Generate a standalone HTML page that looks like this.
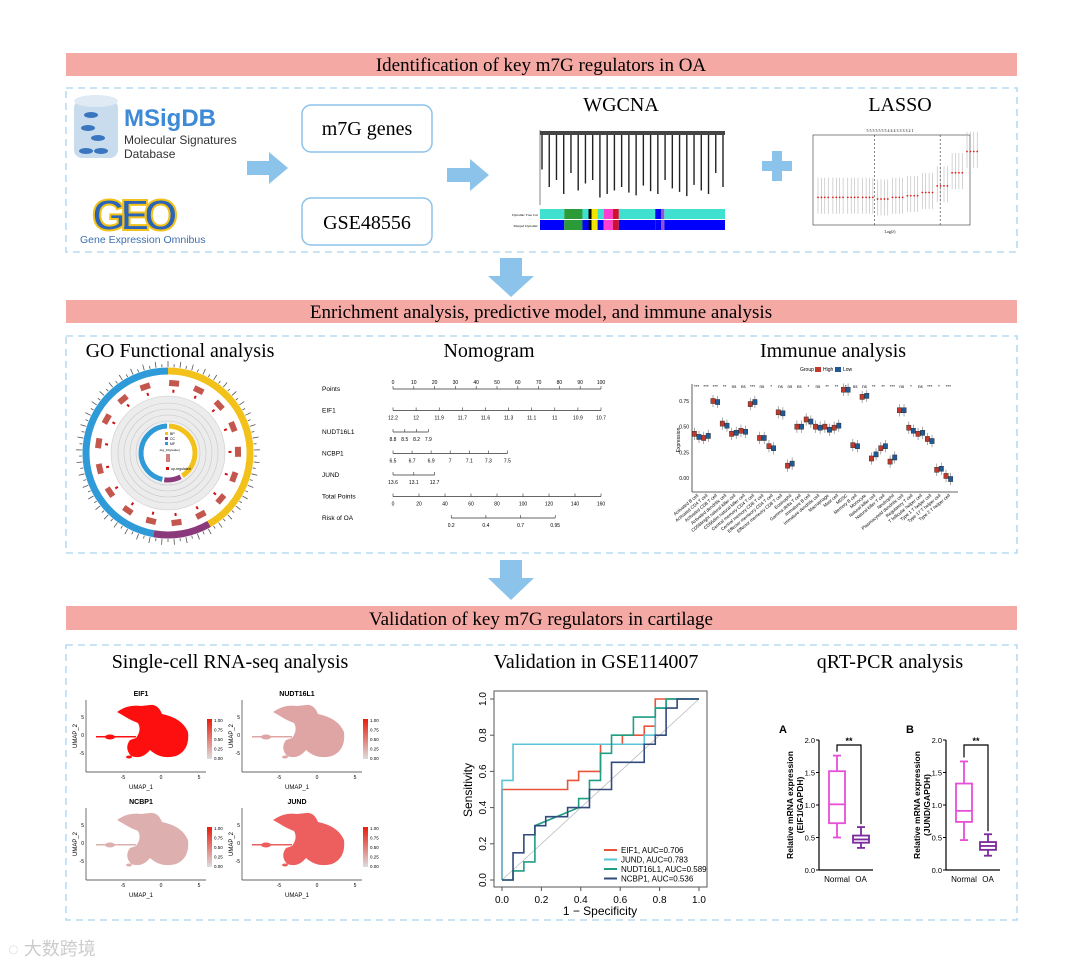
<!DOCTYPE html>
<html><head><meta charset="utf-8">
<style>
html,body{margin:0;padding:0;background:#fff;}
svg{display:block;font-family:"Liberation Serif",serif;}
.sans{font-family:"Liberation Sans",sans-serif;}
</style></head>
<body>
<svg id="root" width="1080" height="969" viewBox="0 0 1080 969">
<defs>
<linearGradient id="grad" x1="0" y1="0" x2="0" y2="1"><stop offset="0" stop-color="#e81d0e"/><stop offset="1" stop-color="#ddd"/></linearGradient>
</defs>
<!-- Banners -->
<rect x="66" y="53" width="951" height="23" fill="#f5a9a5"/>
<text x="541" y="71" font-size="19" text-anchor="middle">Identification of key m7G regulators in OA</text>
<rect x="66" y="300" width="951" height="23" fill="#f5a9a5"/>
<text x="541" y="318" font-size="19" text-anchor="middle">Enrichment analysis, predictive model, and immune analysis</text>
<rect x="66" y="606" width="951" height="24" fill="#f5a9a5"/>
<text x="541" y="625" font-size="19" text-anchor="middle">Validation of key m7G regulators in cartilage</text>
<!-- Dashed boxes -->
<rect x="66" y="88" width="951" height="164" fill="none" stroke="#a9d3ee" stroke-width="1.3" stroke-dasharray="7,5"/>
<rect x="66" y="336" width="951" height="217" fill="none" stroke="#a9d3ee" stroke-width="1.3" stroke-dasharray="7,5"/>
<rect x="66" y="645" width="951" height="275" fill="none" stroke="#a9d3ee" stroke-width="1.3" stroke-dasharray="7,5"/>
<!-- Down arrows -->
<path d="M500,258 H522 V276 H534 L511,297 L488,276 H500 Z" fill="#8cc3ea"/>
<path d="M500,560 H522 V578 H534 L511,600 L488,578 H500 Z" fill="#8cc3ea"/>

<!-- Section 1 -->
<g>
<rect x="74" y="100" width="44" height="58" rx="8" fill="#c9dced"/>
<ellipse cx="96" cy="101" rx="22" ry="6" fill="#dfeaf5"/>
<ellipse cx="91" cy="115" rx="7" ry="3" fill="#3a76c0"/><ellipse cx="88" cy="128" rx="7" ry="3" fill="#3a76c0"/>
<ellipse cx="98" cy="138" rx="7" ry="3" fill="#3a76c0"/><ellipse cx="86" cy="151" rx="7" ry="3" fill="#3a76c0"/><ellipse cx="101" cy="151" rx="7" ry="3" fill="#3a76c0"/>
<text x="124" y="126" class="sans" font-size="24" fill="#3d8ad6" font-weight="bold">MSigDB</text>
<text x="124" y="144" class="sans" font-size="12" fill="#333">Molecular Signatures</text>
<text x="124" y="158" class="sans" font-size="12" fill="#333">Database</text>
</g>
<g>
<text x="92" y="230" class="sans" font-size="44" font-weight="bold" fill="#2a63b8" stroke="#f2c21a" stroke-width="2" letter-spacing="-6">GEO</text>
<text x="80" y="243" class="sans" font-size="10.5" fill="#3d6fb0">Gene Expression Omnibus</text>
</g>
<path d="M247,161 H269 V152 L288,168 L269,184 V175 H247 Z" fill="#8cc3ea"/>
<rect x="302" y="105" width="130" height="47" rx="9" fill="#fff" stroke="#8cc3ea" stroke-width="1.5"/>
<text x="367" y="135" font-size="20" text-anchor="middle">m7G genes</text>
<rect x="302" y="198" width="130" height="47" rx="9" fill="#fff" stroke="#8cc3ea" stroke-width="1.5"/>
<text x="367" y="229" font-size="20" text-anchor="middle">GSE48556</text>
<path d="M447,168 H470 V159 L489,175 L470,191 V182 H447 Z" fill="#8cc3ea"/>
<text x="621" y="111" font-size="20" text-anchor="middle">WGCNA</text>
<g id="wgcna"></g>
<path d="M762,161 H772 V151 H782 V161 H792 V171 H782 V181 H772 V171 H762 Z" fill="#8cc3ea"/>
<text x="900" y="111" font-size="20" text-anchor="middle">LASSO</text>
<g id="lasso"></g>

<!-- Section 2 -->
<text x="180" y="357" font-size="20" text-anchor="middle">GO Functional analysis</text>
<g id="go"></g>
<text x="489" y="357" font-size="20" text-anchor="middle">Nomogram</text>
<g id="nomo" class="sans"></g>
<text x="833" y="357" font-size="20" text-anchor="middle">Immunue analysis</text>
<g id="immune" class="sans"></g>

<!-- Section 3 -->
<text x="230" y="668" font-size="20" text-anchor="middle">Single-cell RNA-seq analysis</text>
<g id="umap" class="sans"></g>
<text x="596" y="668" font-size="20" text-anchor="middle">Validation in GSE114007</text>
<g id="roc" class="sans"></g>
<text x="890" y="668" font-size="20" text-anchor="middle">qRT-PCR analysis</text>
<g id="qpcr" class="sans"></g>
<text x="8" y="955" class="sans" font-size="18" fill="#ccc">◌ 大数跨境</text>
</svg>
<script>
const NS="http://www.w3.org/2000/svg";
function mk(parent,tag,attrs,txt){const e=document.createElementNS(NS,tag);for(const k in attrs)e.setAttribute(k,attrs[k]);if(txt!==undefined)e.textContent=txt;parent.appendChild(e);return e;}
function arcPath(cx,cy,r,a0,a1){const p=a=>[cx+r*Math.sin(a*Math.PI/180),cy-r*Math.cos(a*Math.PI/180)];const [x0,y0]=p(a0),[x1,y1]=p(a1);return `M${x0},${y0} A${r},${r} 0 ${(a1-a0)>180?1:0} 1 ${x1},${y1}`;}

// ---------- GO circle ----------
const goCats=["BP","CC","MF"];
const goColors=["#f2c21a","#8a3a7a","#2f9ad8"];
const goStartDeg=[0,150,190];
const goEndDeg=[150,190,360];
(function(){
 const g=document.getElementById('go');
 const cx=168,cy=453;
 for(let a=0;a<360;a+=4){const r1=86,r2=a%8?89:92;
  mk(g,'line',{x1:cx+r1*Math.sin(a*Math.PI/180),y1:cy-r1*Math.cos(a*Math.PI/180),x2:cx+r2*Math.sin(a*Math.PI/180),y2:cy-r2*Math.cos(a*Math.PI/180),stroke:'#555','stroke-width':0.8});}
 goCats.forEach((c,i)=>{
  const p=mk(g,'path',{d:arcPath(cx,cy,82,goStartDeg[i],goEndDeg[i]),fill:'none',stroke:goColors[i],'stroke-width':7});
  
  const q=mk(g,'path',{d:arcPath(cx,cy,25,goStartDeg[i]+2,goEndDeg[i]-2),fill:'none',stroke:goColors[i],'stroke-width':5});
  
 });
 mk(g,'circle',{cx:cx,cy:cy,r:57,fill:'#ececec',stroke:'#ccc','stroke-width':0.6});
 [50,44,38,32].forEach(r=>mk(g,'circle',{cx:cx,cy:cy,r:r,fill:'none',stroke:'#c8c8c8','stroke-width':0.6}));
 mk(g,'circle',{cx:cx,cy:cy,r:30,fill:'#fff'});
 goCats.forEach((c,i)=>{
  mk(g,'path',{d:arcPath(cx,cy,27,goStartDeg[i]+2,goEndDeg[i]-2),fill:'none',stroke:goColors[i],'stroke-width':5});
  mk(g,'rect',{x:cx-3,y:cy-21+i*5,width:3,height:3,fill:goColors[i]});
  mk(g,'text',{x:cx+2,y:cy-18+i*5,'font-size':3.5,class:'sans'},c);
 });
 mk(g,'text',{x:cx-9,y:cy-2,'font-size':3,class:'sans'},'-log_10(pvalue)');
 mk(g,'rect',{x:cx-2,y:cy+1,width:4,height:8,fill:'#d08080'});
 mk(g,'rect',{x:cx-2,y:cy+14,width:3,height:3,fill:'#d01010'});
 mk(g,'text',{x:cx+3,y:cy+17,'font-size':3.5,class:'sans'},'up-regulated');
 for(let a=5;a<360;a+=21){const r=70,x=cx+r*Math.sin(a*Math.PI/180),y=cy-r*Math.cos(a*Math.PI/180);
  const b=mk(g,'rect',{x:x-5,y:y-3,width:10,height:6,fill:'#c4574d',transform:`rotate(${a} ${x} ${y})`});
  
  const r2=62,x2=cx+r2*Math.sin(a*Math.PI/180),y2=cy-r2*Math.cos(a*Math.PI/180);
  mk(g,'rect',{x:x2-1,y:y2-1.5,width:2,height:3,fill:'#d01010',transform:`rotate(${a} ${x2} ${y2})`});}
})();

// ---------- ROC data ----------
const rocSeries=["EIF1","JUND","NUDT16L1","NCBP1"];
const rocColors=["#e8533a","#5bc3d8","#1f9e83","#324b7c"];
const rocAuc=["0.706","0.783","0.589","0.536"];
const rocFpr=[
 [0,0,0.333,0.333,0.389,0.389,0.5,0.5,0.611,0.611,0.722,0.722,0.778,0.778,1],
 [0,0,0.056,0.056,0.722,0.722,0.778,0.778,0.833,0.833,1],
 [0,0.056,0.056,0.111,0.111,0.167,0.167,0.389,0.389,0.444,0.444,0.5,0.5,0.556,0.556,0.667,0.667,0.778,0.778,0.833,0.833,1],
 [0,0.056,0.056,0.111,0.111,0.167,0.167,0.222,0.222,0.333,0.333,0.444,0.444,0.556,0.556,0.722,0.722,0.778,0.778,0.833,0.833,0.889,0.889,1]];
const rocTpr=[
 [0,0.5,0.5,0.55,0.55,0.6,0.6,0.75,0.75,0.8,0.8,0.85,0.85,1,1],
 [0,0.55,0.55,0.75,0.75,0.8,0.8,0.95,0.95,1,1],
 [0,0,0.05,0.05,0.1,0.1,0.3,0.4,0.45,0.45,0.55,0.55,0.7,0.7,0.8,0.8,0.9,0.9,0.95,0.95,1,1],
 [0,0,0.15,0.15,0.25,0.25,0.3,0.3,0.35,0.35,0.4,0.4,0.5,0.5,0.65,0.65,0.75,0.75,0.8,0.8,0.95,0.95,1,1]];
const rocTicks=["0.0","0.2","0.4","0.6","0.8","1.0"];
(function(){
 const g=document.getElementById('roc');
 const X0=502,X1=699,Y0=880,Y1=699;
 const sx=v=>X0+(X1-X0)*v, sy=v=>Y0-(Y0-Y1)*v;
 const f=mk(g,'rect',{x:494,y:691,width:213,height:196,fill:'none',stroke:'#555','stroke-width':1});
 
 const d=mk(g,'line',{x1:sx(0),y1:sy(0),x2:sx(1),y2:sy(1),stroke:'#bbb','stroke-width':0.8});
 
 rocTicks.forEach((t,i)=>{const v=i/5;
  mk(g,'line',{x1:sx(v),y1:887,x2:sx(v),y2:891,stroke:'#555'});
  const tx=mk(g,'text',{x:sx(v),y:903,'font-size':10,'text-anchor':'middle'},t);
  
  mk(g,'line',{x1:490,y1:sy(v),x2:494,y2:sy(v),stroke:'#555'});
  const ty=mk(g,'text',{x:486,y:sy(v),'font-size':10,'text-anchor':'middle',transform:`rotate(-90 486 ${sy(v)})`},t);
  
 });
 const xl=mk(g,'text',{x:600,y:915,'font-size':12,'text-anchor':'middle'},'1 − Specificity');
 
 const yl=mk(g,'text',{x:472,y:790,'font-size':12,'text-anchor':'middle',transform:'rotate(-90 472 790)'},'Sensitivity');
 
 rocSeries.forEach((s,i)=>{
  const pts=rocFpr[i].map((x,j)=>sx(x)+','+sy(rocTpr[i][j])).join(' ');
  const p=mk(g,'polyline',{points:pts,fill:'none',stroke:rocColors[i],'stroke-width':1.6});
  
  const ly=850+i*9.5;
  mk(g,'line',{x1:604,y1:ly,x2:617,y2:ly,stroke:rocColors[i],'stroke-width':2});
  const lt=mk(g,'text',{x:621,y:ly+3,'font-size':8},s+', AUC='+rocAuc[i]);
  
 });
})();

// ---------- qRT-PCR data ----------
const qGenes=["EIF1","JUND"];
const qNormal=[[0.5,0.72,1.01,1.52,1.76],[0.46,0.74,0.91,1.33,1.67]];
const qOA=[[0.34,0.42,0.47,0.53,0.66],[0.22,0.31,0.37,0.43,0.55]];
const qTicks=["0.0","0.5","1.0","1.5","2.0"];
(function(){
 const g=document.getElementById('qpcr');
 [[819,"A"],[946,"B"]].forEach(([ax,lab],k)=>{
  const Y0=870,Y1=740, sy=v=>Y0-(Y0-Y1)*v/2;
  const L=mk(g,'text',{x:ax-40,y:733,'font-size':11,'font-weight':'bold'},lab);
  
  mk(g,'line',{x1:ax,y1:Y1,x2:ax,y2:Y0,stroke:'#000','stroke-width':1.2});
  mk(g,'line',{x1:ax,y1:Y0,x2:ax+54,y2:Y0,stroke:'#000','stroke-width':1.2});
  qTicks.forEach((t,i)=>{const y=sy(i*0.5);mk(g,'line',{x1:ax-3,y1:y,x2:ax,y2:y,stroke:'#000'});
   const tt=mk(g,'text',{x:ax-4,y:y+3,'font-size':7.5,'text-anchor':'end'},t);});
  const yt=mk(g,'text',{x:ax-26,y:805,'font-size':8.5,'font-weight':'bold','text-anchor':'middle',transform:`rotate(-90 ${ax-26} 805)`},'Relative mRNA expression');
  
  mk(g,'text',{x:ax-16,y:805,'font-size':8.5,'font-weight':'bold','text-anchor':'middle',transform:`rotate(-90 ${ax-16} 805)`},'('+qGenes[k]+'/GAPDH)');
  [[qNormal[k],ax+18,'#e84fd8','Normal'],[qOA[k],ax+42,'#7b2a9c','OA']].forEach(([q,cx,c,name])=>{
   const b=mk(g,'rect',{x:cx-8,y:sy(q[3]),width:16,height:sy(q[1])-sy(q[3]),fill:'none',stroke:c,'stroke-width':1.8});
   
   mk(g,'line',{x1:cx-8,y1:sy(q[2]),x2:cx+8,y2:sy(q[2]),stroke:c,'stroke-width':1.8});
   mk(g,'line',{x1:cx,y1:sy(q[0]),x2:cx,y2:sy(q[1]),stroke:c,'stroke-width':1.8});
   mk(g,'line',{x1:cx,y1:sy(q[3]),x2:cx,y2:sy(q[4]),stroke:c,'stroke-width':1.8});
   mk(g,'line',{x1:cx-4,y1:sy(q[0]),x2:cx+4,y2:sy(q[0]),stroke:c,'stroke-width':1.8});
   mk(g,'line',{x1:cx-4,y1:sy(q[4]),x2:cx+4,y2:sy(q[4]),stroke:c,'stroke-width':1.8});
   const xt=mk(g,'text',{x:cx,y:Y0+12,'font-size':8,'text-anchor':'middle'},name);
  });
  mk(g,'path',{d:`M${ax+18},${sy(qNormal[k][4])-4} V${Y1+5} H${ax+42} V${sy(qOA[k][4])-3}`,fill:'none',stroke:'#000','stroke-width':1.2});
  mk(g,'text',{x:ax+30,y:Y1+4,'font-size':9,'font-weight':'bold','text-anchor':'middle'},'**');
 });
})();

// ---------- Immune boxplot data ----------
const immCells=["Activated B cell","Activated CD4 T cell","Activated CD8 T cell","Activated dendritic cell","CD56bright natural killer cell","CD56dim natural killer cell","Central memory CD4 T cell","Central memory CD8 T cell","Effector memeory CD4 T cell","Effector memeory CD8 T cell","Eosinophil","Gamma delta T cell","Immature B cell","Immature dendritic cell","Macrophage","Mast cell","MDSC","Memory B cell","Monocyte","Natural killer cell","Natural killer T cell","Neutrophil","Plasmacytoid dendritic cell","Regulatory T cell","T follicular helper cell","Type 1 T helper cell","Type 17 T helper cell","Type 2 T helper cell"];
const immHigh=[0.43,0.39,0.75,0.53,0.43,0.46,0.72,0.39,0.31,0.64,0.12,0.50,0.57,0.50,0.50,0.49,0.86,0.32,0.79,0.19,0.29,0.16,0.66,0.49,0.43,0.38,0.08,0.02];
const immLow=[0.40,0.41,0.74,0.51,0.44,0.45,0.74,0.39,0.29,0.63,0.14,0.50,0.55,0.49,0.47,0.51,0.86,0.31,0.80,0.23,0.31,0.20,0.66,0.46,0.44,0.36,0.09,-0.01];
const immSig=["***","***","***","**","ns","ns","***","ns","*","ns","ns","ns","*","ns","**","**","*","ns","ns","**","**","***","ns","*","ns","***","*","***"];
const immTicks=[0,0.25,0.5,0.75];
(function(){
 const g=document.getElementById('immune');
 const X0=692,X1=953,Y0=478,Y1=401, sy=v=>Y0-(Y0-Y1)*v/0.75;
 const n=immCells.length, step=(X1-X0)/n;
 mk(g,'line',{x1:X0,y1:384,x2:X0,y2:492,stroke:'#333','stroke-width':0.8});
 mk(g,'line',{x1:X0,y1:492,x2:X1+5,y2:492,stroke:'#333','stroke-width':0.8});
 immTicks.forEach(t=>{mk(g,'text',{x:X0-3,y:sy(t)+2,'font-size':5,'text-anchor':'end'},t.toFixed(2));});
 mk(g,'text',{x:680,y:440,'font-size':5,'text-anchor':'middle',transform:'rotate(-90 680 440)'},'Expression');
 mk(g,'text',{x:800,y:371,'font-size':5},'Group');
 mk(g,'rect',{x:815,y:367,width:6,height:5,fill:'#c0392b'});mk(g,'text',{x:823,y:371,'font-size':5},'High');
 mk(g,'rect',{x:835,y:367,width:6,height:5,fill:'#1f5a96'});mk(g,'text',{x:843,y:371,'font-size':5},'Low');
 immCells.forEach((c,i)=>{
  const cx=X0+step*(i+0.5);
  [[immHigh[i],cx-2.3,'#c0392b'],[immLow[i],cx+2.3,'#1f5a96']].forEach(([m,bx,col])=>{
   mk(g,'line',{x1:bx,y1:sy(m+0.06),x2:bx,y2:sy(m-0.06),stroke:'#888','stroke-width':0.7});
   const r=mk(g,'rect',{x:bx-2.2,y:sy(m+0.025),width:4.4,height:sy(m-0.025)-sy(m+0.025),fill:col,stroke:'#222','stroke-width':0.4});
   
  });
  mk(g,'text',{x:cx,y:388,'font-size':4.5,'text-anchor':'middle'},immSig[i]);
  const t=mk(g,'text',{x:cx+2,y:496,'font-size':4.5,'text-anchor':'end',transform:`rotate(-40 ${cx+2} 496)`},c);
  
 });
})();

// ---------- Nomogram ----------
const nomoRows=["Points","EIF1","NUDT16L1","NCBP1","JUND","Total Points","Risk of OA"];
const nomoLabels=[["0","10","20","30","40","50","60","70","80","90","100"],["12.2","12","11.9","11.7","11.6","11.3","11.1","11","10.9","10.7"],["8.8","8.5","8.2","7.9"],["6.5","6.7","6.9","7","7.1","7.3","7.5"],["13.6","13.1","12.7"],["0","20","40","60","80","100","120","140","160"],["0.2","0.4","0.7","0.95"]];
const nomoStart=[0,0,0,0,0,0,0.28];
const nomoEnd=[1,1,0.17,0.55,0.2,1,0.78];
(function(){
 const g=document.getElementById('nomo');
 const X0=393,X1=601;
 nomoRows.forEach((r,i)=>{
  const y=389+i*21.5;
  const t=mk(g,'text',{x:322,y:y+2,'font-size':6.5},r);
  const a=X0+(X1-X0)*nomoStart[i],b=X0+(X1-X0)*nomoEnd[i];
  mk(g,'line',{x1:a,y1:y,x2:b,y2:y,stroke:'#333','stroke-width':0.7});
  const L=nomoLabels[i];
  L.forEach((l,j)=>{const x=a+(b-a)*j/(L.length-1);
   mk(g,'line',{x1:x,y1:y,x2:x,y2:y-3,stroke:'#333','stroke-width':0.6});
   mk(g,'text',{x:x,y:i==0?y-5:y+9,'font-size':5,'text-anchor':'middle'},l);});
 });
})();

// ---------- WGCNA ----------
const wgcnaColors=["#40e0d0","#2b9b3a","#40e0d0","#000","#f3e400","#40e0d0","#ff3ecf","#d01030","#40e0d0","#0000ff","#9a4fd0","#40e0d0"];
const wgcnaWidths=[4,3,1,0.5,1,1,1.5,1,6,1,0.5,10];
const wgcnaBranchHeights=[0.55,0.8,0.7,0.9,0.6,0.85,0.75,0.7,0.95,0.9,0.85,0.8,0.88,0.92,0.78,0.86,0.9,0.7,0.82,0.87,0.93,0.77,0.85,0.9,0.6,0.8];
(function(){
 const g=document.getElementById('wgcna');
 const X0=540,X1=725;
 mk(g,'line',{x1:X0,y1:130,x2:X0,y2:205,stroke:'#333','stroke-width':0.6});
 wgcnaBranchHeights.forEach((h,i)=>{const x=X0+2+(X1-X0-4)*i/(wgcnaBranchHeights.length-1);
  const l=mk(g,'line',{x1:x,y1:131,x2:x,y2:131+70*h,stroke:'#222','stroke-width':1.4});
  });
 mk(g,'rect',{x:X0,y:131,width:X1-X0,height:4,fill:'#444'});
 const tot=wgcnaWidths.reduce((a,b)=>a+b,0);let x=X0;
 wgcnaColors.forEach((c,i)=>{const w=(X1-X0)*wgcnaWidths[i]/tot;
  mk(g,'rect',{x:x,y:209,width:w,height:10,fill:c});
  mk(g,'rect',{x:x,y:220,width:w,height:10,fill:c==="#40e0d0"?"#0000ff":c});x+=w;});
 mk(g,'text',{x:538,y:216,'font-size':3.5,'text-anchor':'end'},'Dynamic Tree Cut');
 mk(g,'text',{x:538,y:227,'font-size':3.5,'text-anchor':'end'},'Merged Dynamic');
})();

// ---------- LASSO ----------
const lassoLogL=[-7,-6.5,-6,-5.5,-5,-4.5,-4,-3.5,-3,-2.5,-2];
const lassoDev=[1.30,1.30,1.30,1.30,1.29,1.30,1.31,1.33,1.37,1.45,1.58];
(function(){
 const g=document.getElementById('lasso');
 const X0=818,X1=967,Y0=222,Y1=140;
 const sx=v=>X0+(X1-X0)*(v+7)/5, sy=v=>Y0-(Y0-Y1)*(v-1.15)/0.5;
 mk(g,'rect',{x:813,y:135,width:157,height:90,fill:'none',stroke:'#333','stroke-width':0.6});
 mk(g,'line',{x1:sx(-5.1),y1:135,x2:sx(-5.1),y2:225,stroke:'#333','stroke-dasharray':'2,2','stroke-width':0.6});
 mk(g,'line',{x1:sx(-2.9),y1:135,x2:sx(-2.9),y2:225,stroke:'#333','stroke-dasharray':'2,2','stroke-width':0.6});
 lassoLogL.forEach((l,i)=>{
  for(let k=0;k<4;k++){const x=sx(l)+k*3.4;
   mk(g,'line',{x1:x,y1:sy(lassoDev[i]+0.12),x2:x,y2:sy(lassoDev[i]-0.1),stroke:'#aaa','stroke-width':0.5});
   const c=mk(g,'circle',{cx:x,cy:sy(lassoDev[i]),r:0.9,fill:'#e0201b'});
   }
 });
 mk(g,'text',{x:890,y:233,'font-size':4,'text-anchor':'middle'},'Log(λ)');
 mk(g,'text',{x:890,y:132,'font-size':4,'text-anchor':'middle'},'5  5  5  5  5  5  5  4  4  4  3  3  3  3  2  1');
})();

// ---------- UMAP ----------
const umapGenes=["EIF1","NUDT16L1","NCBP1","JUND"];
const umapIntensity=[0.95,0.2,0.15,0.55];
(function(){
 const g=document.getElementById('umap');
 const pos=[[86,690],[242,690],[86,798],[242,798]];
 umapGenes.forEach((gn,i)=>{
  const [x,y]=pos[i];
  const t=mk(g,'text',{x:x+55,y:y+6,'font-size':7,'font-weight':'bold','text-anchor':'middle'},gn);
  
  mk(g,'line',{x1:x,y1:y+10,x2:x,y2:y+82,stroke:'#333','stroke-width':0.7});
  mk(g,'line',{x1:x,y1:y+82,x2:x+120,y2:y+82,stroke:'#333','stroke-width':0.7});
  const v=umapIntensity[i];
  const col=`rgb(${Math.round(215+40*v)},${Math.round(205-200*v)},${Math.round(205-200*v)})`;
  const b=mk(g,'path',{d:`M${x+31},${y+22} Q${x+42},${y+14} ${x+55},${y+16} L${x+64},${y+15} Q${x+72},${y+14} ${x+76},${y+24} Q${x+96},${y+28} ${x+102},${y+42} Q${x+104},${y+60} ${x+90},${y+66} Q${x+75},${y+70} ${x+64},${y+60} Q${x+56},${y+70} ${x+45},${y+66} Q${x+38},${y+58} ${x+44},${y+50} L${x+50},${y+48} Q${x+56},${y+40} ${x+52},${y+33} Q${x+44},${y+30} ${x+38},${y+26} Z`,fill:col});
  
  mk(g,'rect',{x:x+10,y:y+46,width:40,height:1.5,fill:col});
  mk(g,'ellipse',{cx:x+24,cy:y+47,rx:5,ry:2.5,fill:col});
  mk(g,'ellipse',{cx:x+43,cy:y+67,rx:3,ry:1.5,fill:col});
  mk(g,'rect',{x:x+121,y:y+29,width:5,height:40,fill:'url(#grad)'});
  ['1.00','0.75','0.50','0.25','0.00'].forEach((l,j)=>mk(g,'text',{x:x+128,y:y+32+j*9.5,'font-size':4.5},l));
  [['-5',x+37],['0',x+75],['5',x+113]].forEach(([l,xx])=>mk(g,'text',{x:xx,y:y+89,'font-size':5,'text-anchor':'middle'},l));
  [['5',y+29],['0',y+47],['-5',y+65]].forEach(([l,yy])=>mk(g,'text',{x:x-2,y:yy,'font-size':5,'text-anchor':'end'},l));
  mk(g,'text',{x:x+55,y:y+99,'font-size':6,'text-anchor':'middle'},'UMAP_1');
  mk(g,'text',{x:x-9,y:y+46,'font-size':6,'text-anchor':'middle',transform:`rotate(-90 ${x-9} ${y+46})`},'UMAP_2');
 });
})();
</script>
</body></html>
